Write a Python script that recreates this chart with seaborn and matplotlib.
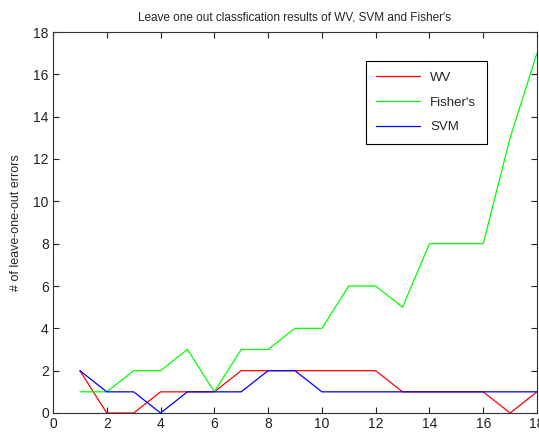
import matplotlib
matplotlib.use("Agg")
import matplotlib.pyplot as plt
import seaborn as sns
import pandas as pd

x = list(range(1, 19))
wv = [2, 0, 0, 1, 1, 1, 2, 2, 2, 2, 2, 2, 1, 1, 1, 1, 0, 1]
fisher = [1, 1, 2, 2, 3, 1, 3, 3, 4, 4, 6, 6, 5, 8, 8, 8, 13, 17]
svm = [2, 1, 1, 0, 1, 1, 1, 2, 2, 1, 1, 1, 1, 1, 1, 1, 1, 1]
series_names = ["WV", "Fisher's", "SVM"]
xticks = list(range(0, 19, 2))
yticks = list(range(0, 19, 2))

sns.set_style("ticks")
plt.rcParams['font.family'] = ['Liberation Sans', 'DejaVu Sans']

df = pd.DataFrame({
    "x": x * 3,
    "y": wv + fisher + svm,
    "series": [series_names[0]] * len(x) + [series_names[1]] * len(x) + [series_names[2]] * len(x),
})

fig = plt.figure(figsize=(5.39, 4.33), dpi=100)
ax = fig.add_axes([53/539, 20/433, 484/539, 381/433])
palette = {"WV": "#ff0000", "Fisher's": "#00ff00", "SVM": "#0000ff"}
sns.lineplot(data=df, x="x", y="y", hue="series", palette=palette, ax=ax,
             linewidth=0.9, hue_order=series_names)

ax.set_xlim(0, 18)
ax.set_ylim(0, 18)
ax.set_xticks(xticks)
ax.set_yticks(yticks)
ax.tick_params(direction="in", length=4, width=0.8, labelsize=10, colors="#222222",
               top=True, right=True, pad=3)
for s in ax.spines.values():
    s.set_visible(True)
    s.set_linewidth(0.8)
    s.set_color("#333333")
ax.set_xlabel("")
ax.set_ylabel("# of leave-one-out errors", fontsize=9, labelpad=8)
ax.set_title("Leave one out classfication results of WV, SVM and Fisher's", fontsize=8.5, pad=8)

leg = ax.legend(loc="upper left", bbox_to_anchor=(0.646, 0.924), fontsize=9.5,
                frameon=True, fancybox=False, edgecolor="black", framealpha=1,
                handlelength=3.3, borderpad=0.8, labelspacing=0.95, borderaxespad=0)
leg.get_frame().set_linewidth(0.8)

fig.savefig("out.png", dpi=100)
